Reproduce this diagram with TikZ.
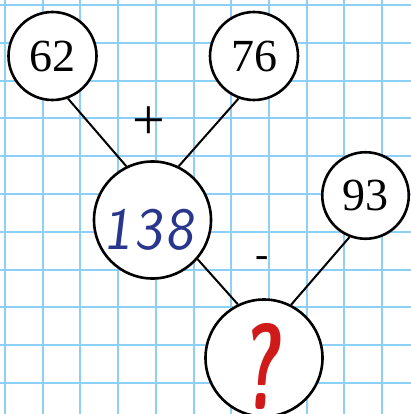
\documentclass[tikz,border=0pt]{standalone}
\usepackage{fontspec}
\setmainfont{Liberation Serif}
\newfontfamily\handfont[FakeSlant=0.12]{Latin Modern Sans}
\definecolor{gridblue}{RGB}{140,208,245}
\definecolor{inkblue}{RGB}{40,55,140}
\definecolor{inkred}{RGB}{208,26,26}
\tikzset{
  gridline/.style={draw=gridblue, line width=2pt},
  ball/.style={circle, draw=black, fill=white, line width=2.6pt, inner sep=0pt, font=\fontsize{46}{46}\selectfont},
  conn/.style={draw=black, line width=2pt},
  optext/.style={inner sep=0pt, font=\fontsize{40}{40}\selectfont},
}
\begin{document}
\begin{tikzpicture}[x=1pt,y=-1pt]
\useasboundingbox (0,0) rectangle (411,414);
\clip (0,0) rectangle (411,414);
\fill[white] (0,0) rectangle (411,414);
\foreach \i in {0,...,10} {
  \draw[gridline] ({5+37.7*\i},-2) -- ({5+37.7*\i},416);
  \draw[gridline] (-2,{5+37.8*\i}) -- (413,{5+37.8*\i});
}
\node[ball, minimum size=88pt] (a) at (52.5,56) {62};
\node[ball, minimum size=88pt] (b) at (254,56) {76};
\node[ball, minimum size=117pt] (c) at (152.5,220) {};
\node[ball, minimum size=86.5pt] (d) at (365.5,195.5) {93};
\node[ball, minimum size=117pt] (e) at (264,358) {};
\draw[conn] (a.-70) -- (c.116);
\draw[conn] (b.250) -- (c.64);
\draw[conn] (c.-41) -- (e.116);
\draw[conn] (d.249) -- (e.63);
\node[optext, font=\fontsize{58}{58}\selectfont] (plus) at (149,123) {+};
\node[optext] (minus) at (262,262) {-};
\node[inner sep=0pt, text=inkblue, font=\handfont\fontsize{60}{60}\selectfont] (t138) at (148.5,230) {1\hspace{3pt}3\hspace{3pt}8};
\node[inner sep=0pt, anchor=south, text=inkred, font=\handfont\bfseries\fontsize{122}{122}\selectfont] (tq) at (261,410) {\scalebox{0.6}[1]{?}};
\end{tikzpicture}
\end{document}
